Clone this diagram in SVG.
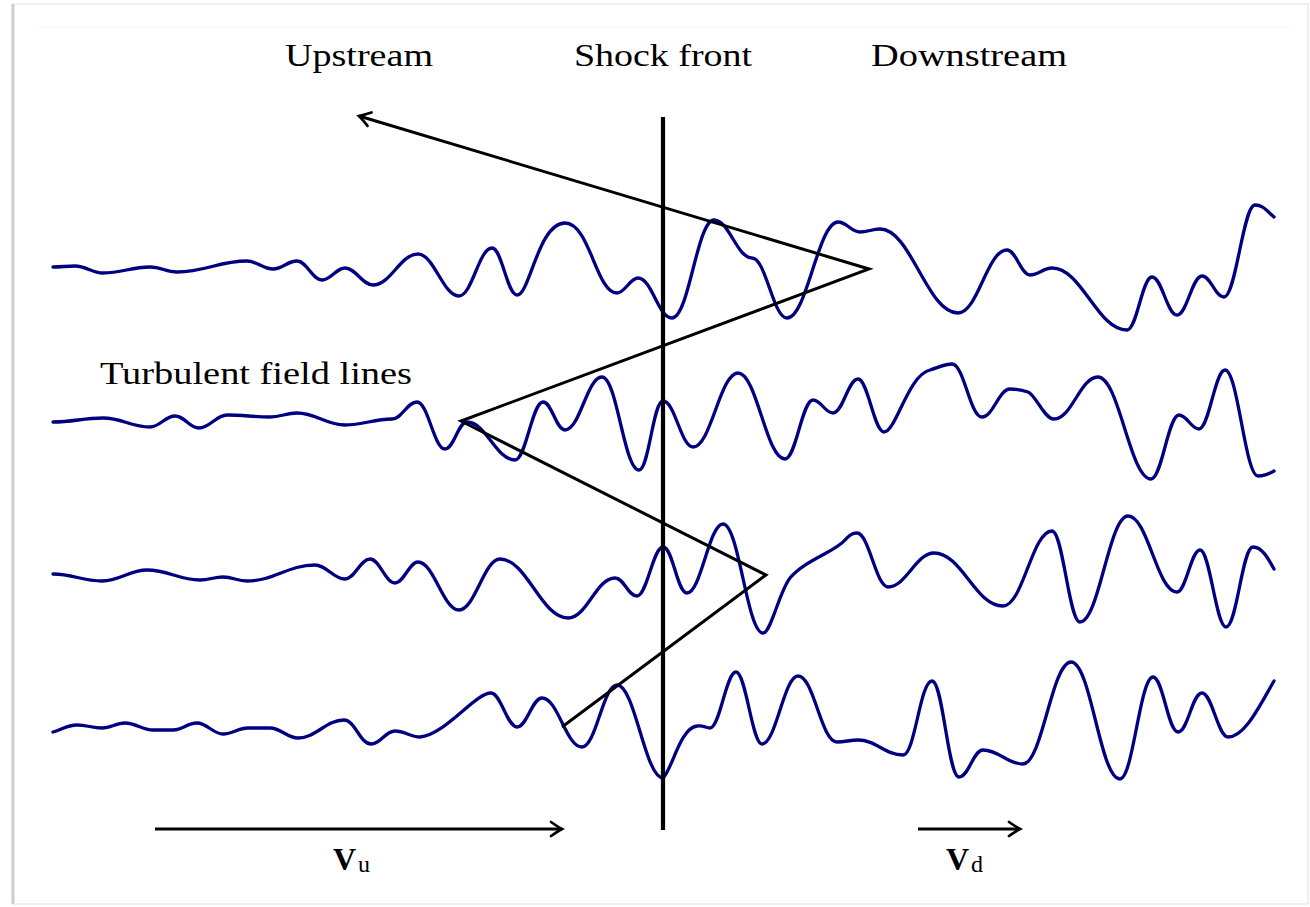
<svg xmlns="http://www.w3.org/2000/svg" width="1310" height="907" viewBox="0 0 1310 907">
<style>
.wave{fill:none;stroke:#000080;stroke-width:3.3;stroke-linejoin:round;stroke-linecap:round}
.blk{fill:none;stroke:#000;stroke-width:3;stroke-linejoin:miter}
.lbl{font-family:"Liberation Serif","DejaVu Serif",serif;font-size:32px;fill:#000}
.vec{font-family:"Liberation Serif","DejaVu Serif",serif;font-size:32px;font-weight:bold;fill:#000}
.sub{font-family:"Liberation Serif","DejaVu Serif",serif;font-size:24px;fill:#000}
</style>
<defs>
<marker id="arr" markerUnits="userSpaceOnUse" viewBox="-12 -8 14 16" refX="0" refY="0" markerWidth="14" markerHeight="16" orient="auto" overflow="visible">
<path d="M-11,-7 Q-3,-1.5 0,0 Q-3,1.5 -11,7" fill="none" stroke="#000" stroke-width="2.7" stroke-linecap="round"/>
</marker>
</defs>
<rect x="0" y="0" width="1310" height="907" fill="#fff"/>
<g id="frame">
<rect x="12" y="4" width="1296" height="900" fill="none" stroke="#ececec" stroke-width="1.5"/>
<line x1="13" y1="4" x2="13" y2="904" stroke="#d0d0d0" stroke-width="3"/>
<line x1="38" y1="27" x2="1292" y2="27" stroke="#f4f4f4" stroke-width="1"/>
</g>
<g id="field-lines">
<path id="line1" class="wave" d="M53,267 C62,267 66,266 75,266 C86,266 92,273 103,273 C122,273 131,267 150,267 C161,267 166,272 177,272 C205,272 219,261 247,261 C257,261 263,269 273,269 C283,269 287,261 297,261 C307,261 312,280 322,280 C331,280 336,268 345,268 C356,268 362,285 373,285 C391,285 400,254 418,254 C434,254 443,296 459,296 C472,296 479,248 492,248 C502,248 507,295 517,295 C530,295 538,223 565,223 C590,223 596,293 617,293 C625,293 630,278 638,278 C652,278 658,318 672,318 C689,318 697,220 714,220 C729,220 737,258 752,258 C766,258 773,318 787,318 C807,318 818,222 838,222 C847,222 851,232 860,232 C868,232 872,229 880,229 C911,229 927,313 958,313 C978,313 987,250 1007,250 C1016,250 1021,275 1030,275 C1039,275 1043,268 1052,268 C1082,268 1097,330 1127,330 C1137,330 1142,277 1152,277 C1162,277 1167,315 1177,315 C1187,315 1192,276 1202,276 C1211,276 1215,297 1224,297 C1236,297 1243,205 1255,205 C1263,205 1266,210 1274,217"/>
<path id="line2" class="wave" d="M53,422 C73,422 83,418 103,418 C122,418 131,427 150,427 C160,427 165,416 175,416 C185,416 189,428 199,428 C210,428 216,415 227,415 C244,415 253,417 270,417 C281,417 286,413 297,413 C316,413 326,425 345,425 C364,425 373,419 392,419 C402,419 407,402 417,402 C428,402 434,449 445,449 C454,449 458,422 467,422 C486,422 496,460 515,460 C526,460 532,402 543,402 C552,402 556,430 565,430 C580,430 587,377 602,377 C617,377 624,470 639,470 C649,470 653,401 663,401 C675,401 681,447 693,447 C711,447 720,373 738,373 C757,373 766,459 785,459 C796,459 802,400 813,400 C821,400 825,413 833,413 C843,413 848,379 858,379 C868,379 874,432 884,432 C896,432 908,375 930,370 C940,367 945,364 952,364 C964,364 970,417 982,417 C993,417 999,389 1010,389 C1016,389 1022,390 1028,392 C1036,395 1044,419 1054,419 C1072,419 1080,377 1098,377 C1119,377 1130,479 1151,479 C1162,479 1168,415 1179,415 C1187,415 1191,429 1199,429 C1209,429 1215,370 1225,370 C1238,370 1245,476 1258,476 C1264,476 1269,474 1274,471"/>
<path id="line3" class="wave" d="M53,574 C73,574 82,581 102,581 C120,581 129,570 147,570 C168,570 179,580 200,580 C209,580 214,577 223,577 C233,577 237,581 247,581 C274,581 288,565 315,565 C327,565 333,579 345,579 C355,579 360,559 370,559 C380,559 385,583 395,583 C404,583 409,562 418,562 C434,562 443,610 459,610 C475,610 484,559 500,559 C527,559 541,618 568,618 C587,618 596,578 615,578 C624,578 628,596 637,596 C647,596 653,547 663,547 C673,547 677,593 687,593 C701,593 709,524 723,524 C739,524 747,633 763,633 C771,633 779,592 790,578 C805,560 835,552 845,540 C850,535 852,533 857,533 C869,533 876,587 888,587 C906,587 916,553 934,553 C962,553 975,606 1003,606 C1023,606 1032,531 1052,531 C1063,531 1069,622 1080,622 C1099,622 1109,516 1128,516 C1148,516 1157,592 1177,592 C1186,592 1191,550 1200,550 C1210,550 1216,627 1226,627 C1237,627 1242,547 1253,547 C1262,547 1268,558 1274,569"/>
<path id="line4" class="wave" d="M53,732 C63,729 67,725 77,725 C87,725 92,728 102,728 C111,728 116,723 125,723 C136,723 142,730 153,730 C160,730 166,730 173,730 C183,730 187,723 197,723 C207,723 213,734 223,734 C233,734 238,728 248,728 C255,728 263,728 270,728 C281,728 287,738 298,738 C316,738 326,720 344,720 C355,720 360,744 371,744 C381,744 385,731 395,731 C405,731 410,737 420,737 C445,735 475,693 491,693 C501,693 507,727 517,727 C527,727 532,698 542,698 C558,698 566,747 582,747 C596,747 603,685 617,685 C635,685 645,778 663,778 C672,770 680,728 697,726 C703,725 706,728 710,728 C720,728 726,672 736,672 C746,672 752,744 762,744 C776,744 784,676 798,676 C814,676 821,742 837,742 C845,742 850,740 858,740 C876,740 885,755 903,755 C915,755 920,681 932,681 C943,681 948,777 959,777 C969,777 973,750 983,750 C999,750 1007,764 1023,764 C1042,764 1052,662 1071,662 C1091,662 1100,779 1120,779 C1133,779 1140,677 1153,677 C1163,677 1168,732 1178,732 C1188,732 1192,693 1202,693 C1212,693 1218,737 1228,737 C1245,737 1260,705 1274,681"/>
</g>
<g id="connectors">
<line id="shock-front" x1="663" y1="117" x2="663" y2="830" stroke="#000" stroke-width="4.2"/>
<polyline id="particle-path" class="blk" points="562,727 766,575 461,421 869,269 359,116" marker-end="url(#arr)"/>
<line id="vu-arrow" class="blk" x1="155" y1="829" x2="562" y2="829" marker-end="url(#arr)"/>
<line id="vd-arrow" class="blk" x1="918" y1="829" x2="1020" y2="829" marker-end="url(#arr)"/>
</g>
<g id="labels">
<text id="upstream" class="lbl" x="359" y="66" text-anchor="middle" textLength="148" lengthAdjust="spacingAndGlyphs">Upstream</text>
<text id="shock-label" class="lbl" x="663" y="66" text-anchor="middle" textLength="178" lengthAdjust="spacingAndGlyphs">Shock front</text>
<text id="downstream" class="lbl" x="969" y="66" text-anchor="middle" textLength="196" lengthAdjust="spacingAndGlyphs">Downstream</text>
<text id="turbulent" class="lbl" x="100" y="384" textLength="312" lengthAdjust="spacingAndGlyphs">Turbulent field lines</text>
<text id="vu" x="333" y="870"><tspan class="vec">V</tspan><tspan class="sub" dx="2" dy="2">u</tspan></text>
<text id="vd" x="946" y="870"><tspan class="vec">V</tspan><tspan class="sub" dx="2" dy="2">d</tspan></text>
</g>
</svg>
